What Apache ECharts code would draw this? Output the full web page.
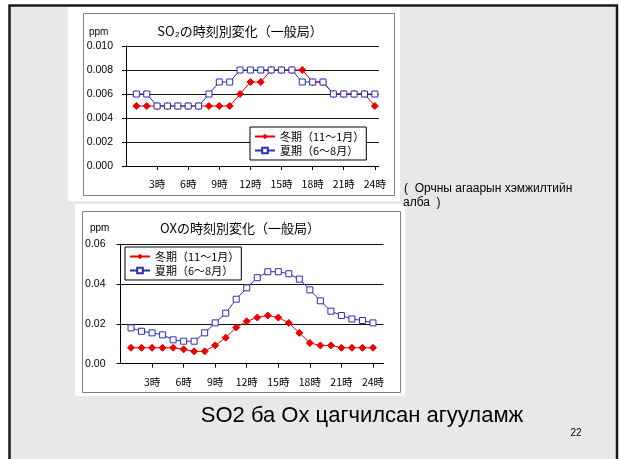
<!DOCTYPE html>
<html><head><meta charset="utf-8">
<script src="https://cdn.jsdelivr.net/npm/echarts@6/dist/echarts.min.js"></script>
<style>html,body{margin:0;padding:0;background:#fff}#c{width:619px;height:459px}</style>
</head><body><div id="c"></div>
<script>
const hours = [1,2,3,4,5,6,7,8,9,10,11,12,13,14,15,16,17,18,19,20,21,22,23,24];
const hourTicks = [3,6,9,12,15,18,21,24];
const seriesNames = ['冬期（11～1月）', '夏期（6～8月）'];
const so2Winter = [0.005,0.005,0.005,0.005,0.005,0.005,0.005,0.005,0.005,0.005,0.006,0.007,0.007,0.008,0.008,0.008,0.008,0.007,0.007,0.006,0.006,0.006,0.006,0.005];
const so2Summer = [0.006,0.006,0.005,0.005,0.005,0.005,0.005,0.006,0.007,0.007,0.008,0.008,0.008,0.008,0.008,0.008,0.007,0.007,0.007,0.006,0.006,0.006,0.006,0.006];
const oxWinter = [0.008,0.008,0.008,0.008,0.008,0.0072,0.0062,0.0062,0.0092,0.0131,0.0182,0.0213,0.0232,0.0242,0.0232,0.0205,0.0155,0.0104,0.0092,0.0092,0.008,0.008,0.008,0.008];
const oxSummer = [0.018,0.0163,0.0155,0.0145,0.012,0.0113,0.0113,0.0155,0.0205,0.0254,0.0324,0.0381,0.0432,0.0462,0.0462,0.0452,0.0425,0.0371,0.0316,0.0264,0.0242,0.0225,0.0217,0.0205];

const chart = echarts.init(document.getElementById('c'));
const RED = '#ee0000', BLUE = '#2d2db0';
const jp = '"Noto Sans CJK JP", sans-serif';
const lat = '"Liberation Sans", Arial, sans-serif';
const pairs = (v) => hours.map((h, i) => [h, v[i]]);

function xAx(gi, max) {
  return {
    type: 'value', gridIndex: gi, min: 0, max: max,
    axisLine: {lineStyle: {color: '#000', width: 1}},
    axisTick: {show: true, length: 4, customValues: hourTicks, lineStyle: {color: '#000'}},
    axisLabel: {customValues: hourTicks, margin: 13, color: '#000', fontSize: 10.5, fontFamily: jp,
      formatter: v => v + '時'},
    splitLine: {show: false}
  };
}
function yAx(gi, max, interval, dec, margin) {
  return {
    type: 'value', gridIndex: gi, min: 0, max: max, interval: interval,
    axisLine: {show: true, lineStyle: {color: '#000', width: 1}},
    axisTick: {show: true, length: 4, lineStyle: {color: '#000'}},
    axisLabel: {margin: margin, color: '#000', fontSize: 10.5, fontFamily: lat,
      formatter: v => v.toFixed(dec)},
    splitLine: {show: true, lineStyle: {color: '#111', width: 1}}
  };
}
function ser(name, gi, data, winter) {
  return {
    name: name, type: 'line', xAxisIndex: gi, yAxisIndex: gi, data: pairs(data),
    symbol: winter ? 'diamond' : 'rect', symbolSize: winter ? 7 : 6,
    showAllSymbol: true, animation: false,
    lineStyle: {color: winter ? RED : BLUE, width: 1},
    itemStyle: winter ? {color: RED, borderColor: RED} : {color: '#fff', borderColor: BLUE, borderWidth: 1}
  };
}
function legend(left, top) {
  return {
    left: left, top: top, orient: 'vertical', data: seriesNames,
    backgroundColor: '#fff', borderColor: '#000', borderWidth: 1, borderRadius: 0,
    padding: [4, 2, 4, 4], itemGap: 3, itemWidth: 20, itemHeight: 7,
    textStyle: {fontSize: 11, fontFamily: jp, color: '#000'},
    selectedMode: false
  };
}

chart.setOption({
  animation: false,
  backgroundColor: '#fff',
  grid: [
    {left: 126, top: 46, width: 253, height: 120},
    {left: 120.5, top: 244.3, width: 263, height: 119.4}
  ],
  xAxis: [xAx(0, 24.4), xAx(1, 25)],
  yAxis: [yAx(0, 0.01, 0.002, 3, 13), yAx(1, 0.06, 0.02, 2, 15)],
  legend: [legend(250, 127), legend(125, 247)],
  series: [
    ser(seriesNames[0], 0, so2Winter, true),
    ser(seriesNames[1], 0, so2Summer, false),
    ser(seriesNames[0], 1, oxWinter, true),
    ser(seriesNames[1], 1, oxSummer, false)
  ],
  graphic: [
    {type: 'rect', z: -10, silent: true, shape: {x: 9.5, y: 5.5, width: 607.5, height: 480},
      style: {fill: '#e8e8e8', stroke: '#1a1a1a', lineWidth: 2.5}},
    {type: 'rect', z: -9, silent: true, shape: {x: 68, y: 7, width: 332, height: 194}, style: {fill: '#fff'}},
    {type: 'rect', z: -8, silent: true, shape: {x: 83.5, y: 13.5, width: 311, height: 182}, style: {fill: '#fff', stroke: '#808080', lineWidth: 1}},
    {type: 'rect', z: -9, silent: true, shape: {x: 75, y: 204, width: 330, height: 192}, style: {fill: '#fff'}},
    {type: 'rect', z: -8, silent: true, shape: {x: 82.5, y: 211.5, width: 318, height: 181}, style: {fill: '#fff', stroke: '#808080', lineWidth: 1}},
    {type: 'text', left: 89, top: 27, style: {text: 'ppm', fontSize: 10, fontFamily: lat, fill: '#000'}},
    {type: 'text', left: 90, top: 223, style: {text: 'ppm', fontSize: 10, fontFamily: lat, fill: '#000'}},
    {type: 'text', x: 240, y: 31, style: {text: 'SO₂の時刻別変化（一般局）', fontSize: 13, fontFamily: jp, fill: '#000', align: 'center', verticalAlign: 'middle'}},
    {type: 'text', x: 240, y: 228, style: {text: 'OXの時刻別変化（一般局）', fontSize: 13, fontFamily: jp, fill: '#000', align: 'center', verticalAlign: 'middle'}},
    {type: 'text', x: 404, y: 189, style: {text: '(  Орчны агаарын хэмжилтийн', fontSize: 12, fontFamily: lat, fill: '#000', verticalAlign: 'middle'}},
    {type: 'text', x: 403, y: 203, style: {text: 'алба  )', fontSize: 12, fontFamily: lat, fill: '#000', verticalAlign: 'middle'}},
    {type: 'text', x: 362, y: 416, style: {text: 'SO2 ба Ox цагчилсан агууламж', fontSize: 22, fontFamily: lat, fill: '#000', align: 'center', verticalAlign: 'middle'}},
    {type: 'text', x: 576, y: 433, style: {text: '22', fontSize: 10, fontFamily: lat, fill: '#000', align: 'center', verticalAlign: 'middle'}}
  ]
});
</script></body></html>
